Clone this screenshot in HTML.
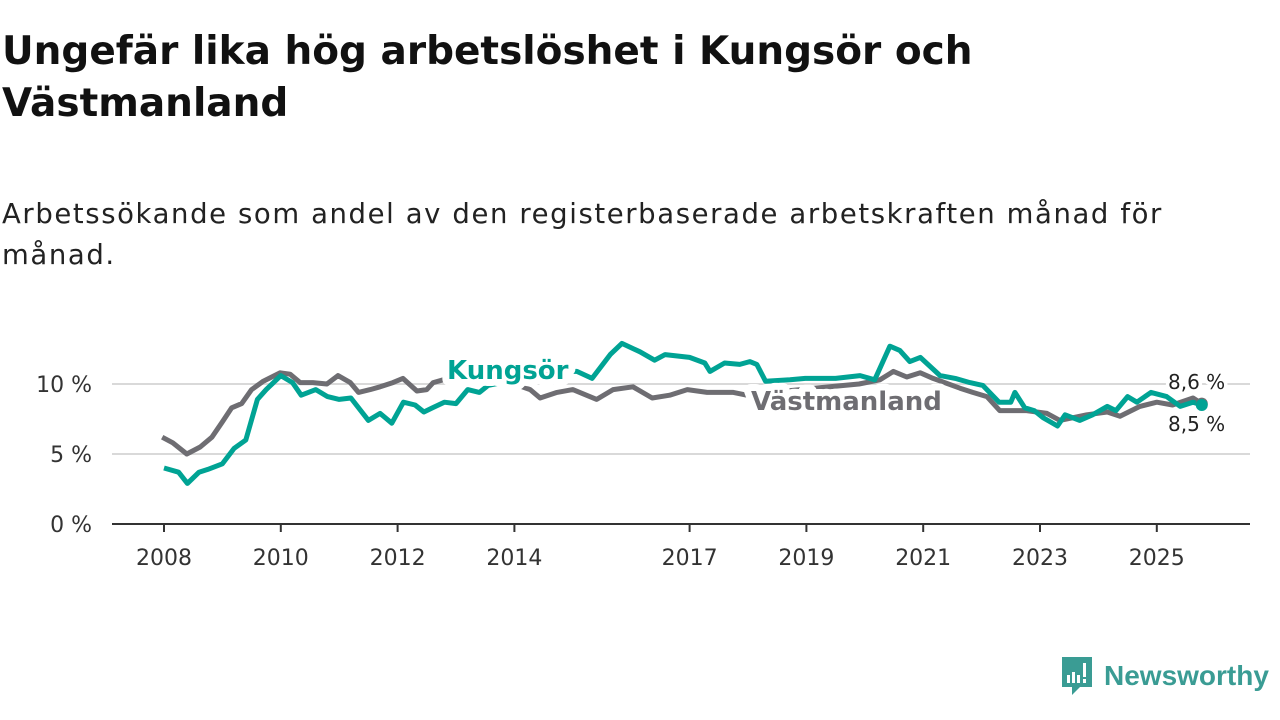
<!DOCTYPE html>
<html><head><meta charset="utf-8">
<style>
body{margin:0;width:1280px;height:720px;background:#fff;font-family:"DejaVu Sans","Liberation Sans",sans-serif;overflow:hidden;position:relative}
h1{position:absolute;left:2px;top:26px;margin:0;font-size:39px;line-height:52px;font-weight:bold;color:#111;width:1250px;white-space:nowrap}
.sub{position:absolute;left:2px;top:194px;font-size:27.5px;line-height:41px;color:#222;width:1270px;white-space:nowrap;letter-spacing:1.6px}
svg{position:absolute;left:0;top:0}
</style></head><body>
<h1>Ungefär lika hög arbetslöshet i Kungsör och<br>Västmanland</h1>
<div class="sub">Arbetssökande som andel av den registerbaserade arbetskraften månad för<br>månad.</div>
<svg id="chart" width="1280" height="720"></svg>
<div style="position:absolute;left:1060px;top:655px;display:flex;align-items:center">
<svg width="34" height="42" style="position:static"><path d="M2 2h30v30H20l-8 8v-8H2z" fill="#3a9c94"/><rect x="7" y="20" width="3" height="8" fill="#fff"/><rect x="12" y="17" width="3" height="11" fill="#fff"/><rect x="17" y="20" width="3" height="8" fill="#fff"/><rect x="23" y="8" width="3" height="14" fill="#fff"/><rect x="23" y="24" width="3" height="4" fill="#fff"/></svg>
<span style="font-family:'Liberation Sans',sans-serif;font-size:28px;color:#3a9c94;font-weight:bold;margin-left:10px">Newsworthy</span></div>
<script>
const yTicks=[0,5,10];
const yTickLabels=["0 %","5 %","10 %"];
const xTicks=[2008,2010,2012,2014,2017,2019,2021,2023,2025];
const kDates=[2008.0,2008.25,2008.4,2008.6,2008.75,2009.0,2009.2,2009.4,2009.6,2009.75,2010.0,2010.2,2010.35,2010.6,2010.8,2011.0,2011.2,2011.5,2011.7,2011.9,2012.1,2012.3,2012.45,2012.6,2012.8,2013.0,2013.2,2013.4,2013.55,2013.9,2014.3,2014.78,2015.07,2015.33,2015.64,2015.84,2016.15,2016.4,2016.58,2017.0,2017.26,2017.35,2017.6,2017.86,2018.03,2018.15,2018.3,2018.72,2018.98,2019.5,2019.92,2020.17,2020.43,2020.6,2020.77,2020.95,2021.29,2021.55,2021.8,2022.02,2022.3,2022.5,2022.57,2022.74,2022.9,2023.05,2023.3,2023.43,2023.68,2023.9,2024.15,2024.3,2024.5,2024.66,2024.9,2025.17,2025.4,2025.62,2025.77];
const kValues=[4.0,3.7,2.9,3.7,3.9,4.3,5.4,6.0,8.9,9.6,10.6,10.1,9.2,9.6,9.1,8.9,9.0,7.4,7.9,7.2,8.7,8.5,8.0,8.3,8.7,8.6,9.6,9.4,9.9,10.2,10.4,10.9,10.9,10.4,12.1,12.9,12.3,11.7,12.1,11.9,11.5,10.9,11.5,11.4,11.6,11.4,10.2,10.3,10.4,10.4,10.6,10.3,12.7,12.4,11.6,11.9,10.6,10.4,10.1,9.9,8.7,8.7,9.4,8.3,8.1,7.6,7.0,7.8,7.4,7.8,8.4,8.1,9.1,8.7,9.4,9.1,8.4,8.7,8.5];
const vDates=[2007.97,2008.15,2008.39,2008.62,2008.82,2009.0,2009.16,2009.33,2009.5,2009.7,2009.99,2010.16,2010.33,2010.55,2010.79,2010.98,2011.19,2011.33,2011.53,2011.7,2011.92,2012.09,2012.33,2012.5,2012.61,2012.78,2013.2,2013.7,2014.0,2014.27,2014.44,2014.73,2015.0,2015.41,2015.69,2016.03,2016.36,2016.66,2016.96,2017.3,2017.47,2017.75,2017.98,2018.4,2018.9,2019.4,2019.9,2020.26,2020.49,2020.72,2020.95,2021.17,2021.63,2021.85,2022.09,2022.31,2022.77,2023.12,2023.34,2023.8,2024.15,2024.37,2024.71,2025.0,2025.27,2025.62,2025.77];
const vValues=[6.2,5.8,5.0,5.5,6.2,7.3,8.3,8.6,9.6,10.2,10.8,10.7,10.1,10.1,10.0,10.6,10.1,9.4,9.6,9.8,10.1,10.4,9.5,9.6,10.1,10.3,10.4,10.2,10.0,9.6,9.0,9.4,9.6,8.9,9.6,9.8,9.0,9.2,9.6,9.4,9.4,9.4,9.2,9.4,9.6,9.8,10.0,10.3,10.9,10.5,10.8,10.4,9.7,9.4,9.1,8.1,8.1,7.9,7.4,7.8,8.0,7.7,8.4,8.7,8.5,9.0,8.6];
const NS="http://www.w3.org/2000/svg";
const svg=document.getElementById('chart');
const X=t=>164+(t-2008)*58.4;
const Y=v=>524-14*v;
function mk(tag,at,parent){const e=document.createElementNS(NS,tag);for(const k in at)e.setAttribute(k,at[k]);(parent||svg).appendChild(e);return e;}
yTicks.forEach((v,i)=>{
  if(v>0){const g=mk('line',{x1:112,x2:1250,y1:Y(v),y2:Y(v),stroke:'#d9d9d9','stroke-width':2});
  
  }
  const t=mk('text',{x:92,y:Y(v)+8,'text-anchor':'end','font-size':22,fill:'#333'});t.textContent=yTickLabels[i];
  
  
});
const ax=mk('line',{x1:112,x2:1250,y1:524,y2:524,stroke:'#333','stroke-width':2});


xTicks.forEach(yr=>{
  const tk=mk('line',{x1:X(yr),x2:X(yr),y1:524,y2:532,stroke:'#333','stroke-width':2});
  
  
  const t=mk('text',{x:X(yr),y:565,'text-anchor':'middle','font-size':22,fill:'#333'});t.textContent=yr;
  
  
});
function path(d,v){return d.map((t,i)=>(i?'L':'M')+X(t).toFixed(1)+' '+Y(v[i]).toFixed(1)).join(' ');}
const vl=mk('path',{d:path(vDates,vValues),fill:'none',stroke:'#6e6d72','stroke-width':5,'stroke-linejoin':'round'});


const kl=mk('path',{d:path(kDates,kValues),fill:'none',stroke:'#00a394','stroke-width':5,'stroke-linejoin':'round'});


const vd=mk('circle',{cx:X(vDates[vDates.length-1]),cy:Y(vValues[vValues.length-1]),r:6,fill:'#6e6d72'});


const kd=mk('circle',{cx:X(kDates[kDates.length-1]),cy:Y(kValues[kValues.length-1]),r:6,fill:'#00a394'});


function label(txt,x,y,col,size,bold,name,sw){
  const t=mk('text',{x:x,y:y,'font-size':size,'font-weight':bold?'bold':'normal',fill:col,stroke:'#fff','stroke-width':sw,'paint-order':'stroke','stroke-linejoin':'round'});
  t.textContent=txt;
  
  
}
label('Kungsör',447,379,'#00a394',26,true,'kungsor-label',14);
label('Västmanland',751,410,'#6e6d72',26,true,'vastmanland-label',14);
label('8,6 %',1168,389,'#222',20,false,'vastmanland-value-label',7);
label('8,5 %',1168,431,'#222',20,false,'kungsor-value-label',7);
</script>
</body></html>
